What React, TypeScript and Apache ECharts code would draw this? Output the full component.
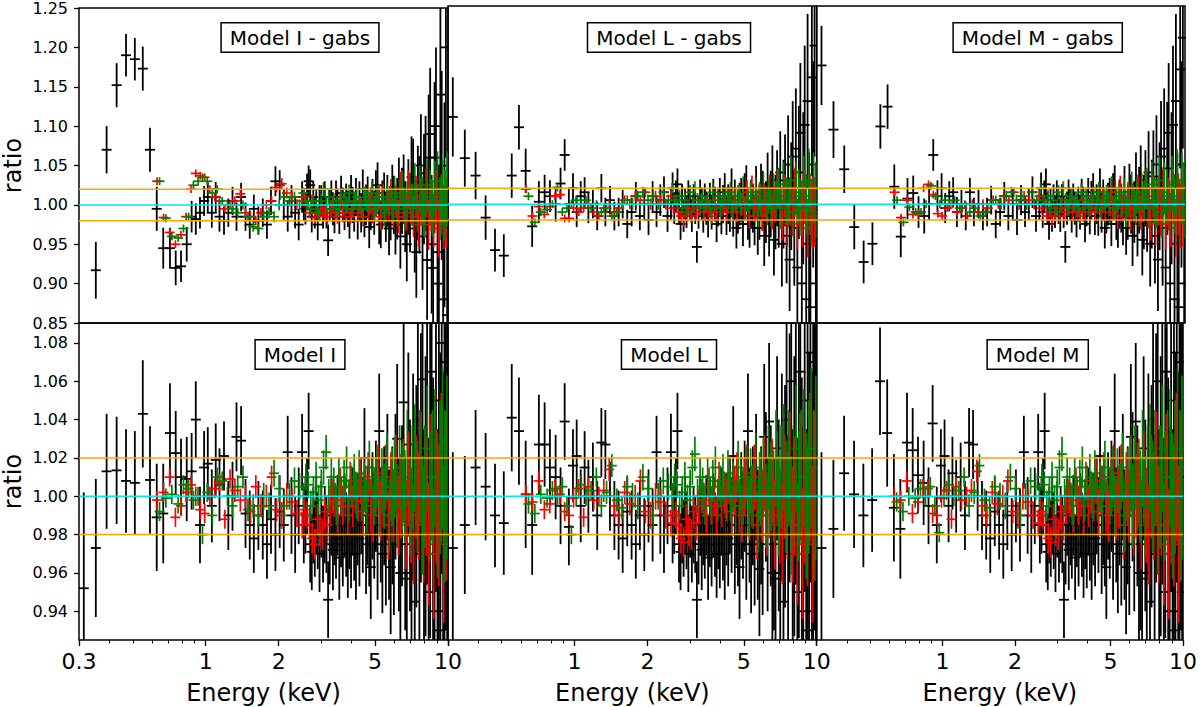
import React, { useEffect, useRef } from 'react';
import * as echarts from 'echarts';

// energies (keV) of the three spectra, shared by all six panels
const ENERGY_BLACK = [
  0.314, 0.352, 0.39, 0.429, 0.469, 0.51, 0.55, 0.589, 0.628, 0.668, 0.712, 0.752, 0.791, 0.835, 0.875, 0.91,
  0.947, 0.985, 1.02, 1.06, 1.1, 1.14, 1.19, 1.24, 1.29, 1.34,
  1.4, 1.46, 1.52, 1.58, 1.65, 1.72, 1.79, 1.86, 1.94, 2.02,
  2.1, 2.18, 2.26, 2.34, 2.42, 2.5, 2.54, 2.58, 2.62, 2.66,
  2.7, 2.74, 2.78, 2.82, 2.86, 2.9, 2.95, 3.0, 3.05, 3.1,
  3.15, 3.2, 3.25, 3.3, 3.35, 3.4, 3.45, 3.5, 3.56, 3.62,
  3.68, 3.74, 3.8, 3.86, 3.92, 3.98, 4.04, 4.1, 4.17, 4.24,
  4.31, 4.38, 4.45, 4.52, 4.59, 4.66, 4.73, 4.8, 4.88, 4.96,
  5.04, 5.12, 5.2, 5.28, 5.36, 5.45, 5.54, 5.62, 5.71, 5.8,
  5.89, 5.98, 6.07, 6.17, 6.27, 6.36, 6.46, 6.56, 6.66, 6.76,
  6.86, 6.97, 7.07, 7.18, 7.29, 7.4, 7.51, 7.62, 7.73, 7.85,
  7.96, 8.08, 8.2, 8.32, 8.44, 8.56, 8.68, 8.8, 8.92, 9.05,
  9.17, 9.3, 9.42, 9.55, 9.67, 9.8, 9.92,
];
const ERR_BLACK = [
  0.05, 0.036, 0.03, 0.028, 0.027, 0.027, 0.028, 0.028, 0.028, 0.026, 0.026, 0.022, 0.02, 0.022, 0.02, 0.02,
  0.02, 0.019, 0.019, 0.019, 0.019, 0.019, 0.018, 0.018, 0.018, 0.018,
  0.018, 0.018, 0.018, 0.018, 0.018, 0.018, 0.018, 0.018, 0.019, 0.019,
  0.019, 0.019, 0.02, 0.02, 0.02, 0.02, 0.02, 0.02, 0.02, 0.02,
  0.02, 0.02, 0.02, 0.02, 0.02, 0.02, 0.02, 0.02, 0.02, 0.02,
  0.02, 0.02, 0.021, 0.021, 0.021, 0.021, 0.021, 0.021, 0.022, 0.022,
  0.022, 0.022, 0.022, 0.023, 0.023, 0.023, 0.023, 0.024, 0.024, 0.024,
  0.025, 0.025, 0.025, 0.026, 0.026, 0.026, 0.027, 0.027, 0.028, 0.028,
  0.029, 0.029, 0.03, 0.03, 0.031, 0.031, 0.032, 0.033, 0.034, 0.035,
  0.036, 0.037, 0.038, 0.039, 0.04, 0.041, 0.042, 0.044, 0.045, 0.047,
  0.048, 0.05, 0.052, 0.054, 0.056, 0.058, 0.06, 0.062, 0.065, 0.068,
  0.07, 0.073, 0.076, 0.08, 0.084, 0.088, 0.092, 0.096, 0.1, 0.105,
  0.11, 0.115, 0.12, 0.125, 0.13, 0.14, 0.15,
];

const ENERGY_RED = [
  0.63, 0.67, 0.71, 0.75, 0.79, 0.83, 0.87, 0.91, 0.95, 0.99,
  1.04, 1.09, 1.14, 1.2, 1.26, 1.32, 1.39, 1.46, 1.53, 1.61,
  1.69, 1.78, 1.87, 1.96, 2.06, 2.16, 2.27, 2.38, 2.5, 2.56,
  2.62, 2.68, 2.75, 2.82, 2.89, 2.96, 3.03, 3.1, 3.18, 3.26,
  3.34, 3.42, 3.5, 3.59, 3.68, 3.77, 3.86, 3.95, 4.05, 4.15,
  4.25, 4.35, 4.46, 4.57, 4.68, 4.79, 4.91, 5.03, 5.15, 5.27,
  5.4, 5.53, 5.67, 5.81, 5.95, 6.09, 6.24, 6.39, 6.55, 6.71,
  6.87, 7.04, 7.21, 7.38, 7.56, 7.74, 7.93, 8.12, 8.32, 8.52,
  8.73, 8.94, 9.16, 9.38, 9.6, 9.82,
];
const ERR_RED = [
  0.005, 0.005, 0.005, 0.005, 0.005, 0.005, 0.005, 0.005, 0.005, 0.005,
  0.005, 0.005, 0.005, 0.005, 0.005, 0.006, 0.006, 0.006, 0.006, 0.006,
  0.006, 0.006, 0.006, 0.006, 0.007, 0.007, 0.007, 0.007, 0.007, 0.007,
  0.007, 0.007, 0.008, 0.008, 0.008, 0.008, 0.008, 0.009, 0.009, 0.009,
  0.009, 0.009, 0.009, 0.01, 0.01, 0.01, 0.01, 0.01, 0.011, 0.011,
  0.011, 0.012, 0.012, 0.013, 0.013, 0.014, 0.014, 0.015, 0.015, 0.016,
  0.016, 0.017, 0.018, 0.018, 0.019, 0.02, 0.021, 0.022, 0.022, 0.023,
  0.024, 0.025, 0.026, 0.027, 0.028, 0.029, 0.03, 0.031, 0.032, 0.033,
  0.034, 0.035, 0.037, 0.039, 0.041, 0.044,
];

const ENERGY_GREEN = [
  0.645, 0.685, 0.725, 0.77, 0.81, 0.85, 0.89, 0.93, 0.97, 1.015,
  1.065, 1.115, 1.17, 1.23, 1.29, 1.355, 1.425, 1.495, 1.57, 1.65,
  1.735, 1.825, 1.915, 2.01, 2.11, 2.215, 2.325, 2.44, 2.53, 2.59,
  2.65, 2.715, 2.785, 2.855, 2.925, 3.0, 3.065, 3.14, 3.22, 3.3,
  3.38, 3.46, 3.545, 3.635, 3.725, 3.815, 3.905, 4.0, 4.1, 4.2,
  4.3, 4.405, 4.515, 4.625, 4.735, 4.85, 4.97, 5.09, 5.21, 5.335,
  5.465, 5.6, 5.74, 5.88, 6.02, 6.165, 6.315, 6.47, 6.63, 6.79,
  6.955, 7.125, 7.295, 7.47, 7.65, 7.835, 8.025, 8.22, 8.42, 8.625,
  8.835, 9.05, 9.27, 9.49, 9.71, 9.9,
];
const ERR_GREEN = [
  0.005, 0.005, 0.005, 0.005, 0.005, 0.005, 0.005, 0.005, 0.005, 0.005,
  0.005, 0.005, 0.005, 0.005, 0.006, 0.006, 0.006, 0.006, 0.006, 0.006,
  0.007, 0.007, 0.007, 0.007, 0.007, 0.007, 0.007, 0.007, 0.007, 0.007,
  0.007, 0.008, 0.008, 0.008, 0.008, 0.009, 0.009, 0.009, 0.009, 0.01,
  0.01, 0.01, 0.01, 0.01, 0.011, 0.011, 0.011, 0.011, 0.012, 0.012,
  0.012, 0.013, 0.013, 0.014, 0.014, 0.015, 0.015, 0.016, 0.016, 0.017,
  0.017, 0.018, 0.019, 0.02, 0.021, 0.022, 0.022, 0.023, 0.024, 0.025,
  0.026, 0.027, 0.028, 0.029, 0.03, 0.031, 0.032, 0.033, 0.034, 0.035,
  0.036, 0.038, 0.04, 0.042, 0.045, 0.048,
];

// data / model ratios, top row (with gabs)
const I_GABS_BLACK = [
  0.78, 0.917, 1.07, 1.152, 1.19, 1.185, 1.173, 1.07, 0.995, 0.945, 0.945, 0.92, 0.922, 0.95, 0.985, 0.982,
  0.99, 1.005, 1.01, 0.99, 1.01, 0.985, 0.98, 0.99, 1.005, 0.985,
  1.01, 0.985, 0.975, 0.995, 0.98, 0.99, 0.975, 1.005, 1.03, 1.025,
  1.0, 0.985, 1.005, 0.99, 0.975, 1.01, 1.0, 0.995, 1.02, 1.03,
  1.025, 0.985, 1.01, 0.99, 1.0, 0.975, 1.005, 1.005, 0.99, 1.01,
  0.99, 0.955, 1.0, 1.01, 0.995, 0.985, 1.01, 1.0, 0.985, 1.015,
  1.0, 0.99, 1.005, 0.995, 0.98, 1.015, 1.0, 0.99, 1.01, 0.98,
  1.005, 0.99, 1.02, 0.985, 1.0, 1.01, 0.972, 0.995, 1.005, 0.99,
  1.015, 1.025, 0.98, 0.975, 1.0, 1.01, 0.985, 1.005, 0.97, 0.99,
  1.015, 1.0, 0.975, 0.995, 1.02, 0.96, 1.005, 1.02, 0.985, 0.95,
  1.01, 0.99, 1.035, 1.03, 0.97, 0.94, 1.015, 1.0, 1.05, 0.96,
  1.02, 1.04, 0.93, 1.06, 1.09, 0.95, 0.92, 1.06, 1.1, 0.9,
  0.94, 1.14, 1.05, 0.88, 1.0, 1.2, 0.86,
];
const I_GABS_RED = [
  1.03, 0.984, 0.965, 0.95, 0.962, 0.985, 1.02, 1.04, 1.037, 1.035,
  1.02, 1.01, 1.005, 0.995, 1.0, 1.005, 1.014, 0.99, 0.985, 0.98,
  0.99, 1.0, 1.005, 1.022, 1.027, 1.015, 1.01, 1.0, 1.005, 1.01,
  1.0, 0.99, 1.005, 0.984, 0.99, 0.988, 0.995, 0.99, 0.985, 0.995,
  1.0, 0.99, 0.985, 1.005, 0.995, 0.99, 1.0, 0.985, 0.995, 1.005,
  0.99, 1.0, 0.985, 1.01, 0.995, 1.005, 0.99, 1.0, 1.01, 0.985,
  1.01, 0.995, 1.0, 1.015, 0.99, 1.005, 0.985, 1.02, 1.0, 0.99,
  1.02, 1.0, 0.985, 1.01, 0.975, 1.005, 0.99, 1.015, 0.975, 1.0,
  0.98, 1.01, 0.97, 1.0, 0.985, 0.99,
];
const I_GABS_GREEN = [
  1.03, 0.983, 0.96, 0.958, 0.97, 0.985, 1.025, 1.03, 1.035, 1.03,
  1.015, 1.02, 1.005, 1.0, 0.995, 0.99, 1.0, 0.985, 0.972, 0.97,
  0.985, 0.99, 0.985, 1.0, 1.01, 1.005, 1.01, 1.0, 1.015, 1.005,
  1.0, 0.995, 1.005, 1.0, 0.99, 1.005, 1.02, 1.0, 1.01, 0.995,
  1.005, 1.0, 0.995, 1.01, 1.005, 1.0, 1.015, 0.995, 1.005, 1.01,
  1.0, 0.995, 1.01, 1.005, 1.0, 1.015, 0.995, 1.005, 1.01, 1.0,
  0.99, 1.01, 1.005, 1.0, 1.015, 0.995, 1.01, 1.02, 0.995, 1.005,
  1.015, 1.0, 1.025, 0.995, 1.02, 1.005, 0.99, 1.025, 1.01, 0.995,
  1.02, 1.03, 0.995, 1.015, 1.0, 1.02,
];

const L_GABS_BLACK = [
  1.11, 1.058, 1.036, 0.983, 0.942, 0.935, 1.036, 1.097, 1.042, 0.972, 1.003, 1.015, 1.01, 1.0, 1.026, 1.062,
  1.0, 1.02, 0.99, 1.01, 1.015, 0.995, 1.0, 0.985, 1.02, 0.99,
  1.005, 0.985, 0.99, 1.0, 0.975, 0.99, 1.01, 0.985, 1.0, 0.98,
  1.01, 0.99, 1.005, 1.015, 0.985, 1.0, 1.02, 0.995, 1.01, 1.025,
  0.995, 0.975, 1.005, 0.985, 1.0, 0.99, 1.01, 1.0, 0.985, 1.005,
  0.995, 0.946, 0.99, 1.01, 1.0, 0.985, 1.005, 0.995, 0.98, 1.005,
  0.99, 1.01, 1.0, 0.975, 0.995, 1.01, 0.985, 1.0, 1.015, 0.985,
  1.0, 0.99, 1.02, 0.985, 1.005, 0.97, 0.99, 1.0, 1.005, 0.975,
  1.01, 1.02, 0.985, 0.975, 1.0, 0.995, 0.98, 1.015, 0.97, 0.99,
  1.015, 1.005, 0.96, 0.99, 1.025, 0.975, 1.0, 1.03, 0.955, 0.99,
  1.02, 0.995, 1.04, 0.95, 1.0, 1.03, 0.96, 1.05, 0.93, 1.01,
  1.06, 0.97, 1.07, 0.92, 1.04, 1.09, 0.9, 1.02, 1.1, 0.88,
  1.13, 0.95, 0.87, 1.16, 1.05, 1.2, 0.9,
];
const L_GABS_RED = [
  1.019, 0.985, 0.997, 0.987, 0.997, 1.01, 1.012, 0.982, 0.982, 0.995,
  0.99, 0.995, 1.0, 0.99, 0.985, 0.995, 1.0, 0.99, 0.995, 1.005,
  1.0, 1.01, 1.005, 1.015, 1.0, 1.01, 1.005, 1.0, 1.01, 0.995,
  1.005, 0.99, 0.985, 0.98, 0.99, 0.995, 0.985, 1.0, 0.99, 0.995,
  1.005, 0.99, 1.0, 0.995, 0.985, 1.0, 0.99, 1.005, 0.995, 1.0,
  0.99, 1.01, 0.995, 1.005, 0.99, 1.01, 1.0, 0.995, 1.015, 0.985,
  1.02, 0.995, 1.0, 1.01, 0.985, 1.005, 0.995, 1.015, 0.99, 1.0,
  1.02, 0.995, 0.98, 1.01, 0.975, 1.005, 0.99, 1.015, 0.975, 1.0,
  0.98, 1.01, 0.97, 1.0, 0.985, 0.99,
];
const L_GABS_GREEN = [
  1.01, 0.977, 0.99, 0.993, 1.0, 1.021, 0.99, 0.995, 1.0, 1.005,
  1.0, 1.005, 0.995, 1.0, 0.99, 0.995, 0.985, 0.99, 1.0, 1.005,
  1.0, 1.01, 1.015, 1.005, 1.01, 1.0, 1.015, 1.005, 1.02, 1.005,
  1.0, 1.01, 0.995, 1.005, 0.99, 1.015, 1.0, 1.02, 1.005, 0.995,
  1.01, 1.0, 1.005, 0.995, 1.015, 1.0, 1.01, 0.995, 1.005, 1.01,
  1.0, 1.015, 0.995, 1.005, 1.01, 1.0, 1.02, 0.995, 1.005, 1.01,
  1.0, 1.015, 0.99, 1.005, 1.02, 1.0, 1.01, 0.995, 1.015, 1.005,
  1.02, 0.995, 1.025, 1.005, 1.0, 1.03, 0.99, 1.02, 1.01, 0.995,
  1.025, 1.0, 1.03, 0.99, 1.02, 1.005,
];

const M_GABS_BLACK = [
  1.175, 1.094, 1.044, 0.971, 0.927, 0.95, 1.098, 1.123, 1.022, 0.959, 1.007, 1.014, 0.99, 0.985, 1.0, 1.062,
  1.01, 1.02, 0.995, 1.01, 1.015, 0.99, 1.0, 0.985, 1.015, 0.99,
  1.0, 0.985, 0.99, 1.005, 0.975, 0.99, 1.01, 0.985, 1.0, 0.98,
  1.005, 0.99, 1.0, 1.015, 0.985, 1.0, 1.02, 0.99, 1.01, 1.025,
  0.995, 0.975, 1.0, 0.985, 1.005, 0.99, 1.01, 0.995, 0.985, 1.005,
  0.99, 0.946, 0.995, 1.01, 1.0, 0.985, 1.005, 0.995, 0.98, 1.0,
  0.99, 1.01, 1.0, 0.975, 0.995, 1.01, 0.985, 1.005, 1.015, 0.985,
  1.0, 0.985, 1.02, 0.99, 1.005, 0.97, 0.99, 1.0, 1.005, 0.975,
  1.01, 1.02, 0.985, 0.975, 1.0, 0.995, 0.98, 1.015, 0.97, 0.99,
  1.015, 1.0, 0.96, 0.99, 1.025, 0.975, 1.005, 1.03, 0.955, 0.99,
  1.02, 0.99, 1.04, 0.95, 1.0, 1.035, 0.96, 1.05, 0.93, 1.01,
  1.06, 0.97, 1.07, 0.92, 1.045, 1.09, 0.9, 1.02, 1.1, 0.88,
  1.13, 0.95, 0.87, 1.17, 1.05, 1.21, 0.9,
];
const M_GABS_RED = [
  1.015, 0.983, 1.005, 0.987, 0.988, 1.02, 1.025, 1.012, 0.988, 0.985,
  0.995, 1.0, 0.99, 0.995, 0.985, 1.0, 0.99, 1.0, 0.995, 1.005,
  1.0, 1.01, 1.005, 1.015, 1.0, 1.01, 1.005, 1.0, 1.01, 0.995,
  1.005, 0.985, 0.99, 0.98, 0.99, 0.995, 0.985, 1.0, 0.99, 0.995,
  1.005, 0.99, 1.0, 0.995, 0.985, 1.0, 0.99, 1.005, 0.995, 1.0,
  0.99, 1.01, 0.995, 1.005, 0.99, 1.01, 1.0, 0.995, 1.015, 0.985,
  1.02, 0.995, 1.0, 1.01, 0.985, 1.005, 0.995, 1.015, 0.99, 1.0,
  1.02, 0.995, 0.98, 1.01, 0.975, 1.005, 0.99, 1.015, 0.975, 1.0,
  0.98, 1.01, 0.97, 1.0, 0.985, 0.99,
];
const M_GABS_GREEN = [
  1.005, 0.977, 0.996, 0.99, 0.99, 1.0, 1.023, 1.01, 1.0, 1.005,
  1.0, 1.005, 0.995, 1.0, 0.99, 0.995, 0.985, 0.99, 1.0, 1.005,
  1.0, 1.01, 1.015, 1.005, 1.01, 1.0, 1.015, 1.005, 1.02, 1.005,
  1.0, 1.01, 0.995, 1.005, 0.99, 1.015, 1.0, 1.02, 1.005, 0.995,
  1.01, 1.0, 1.005, 0.995, 1.015, 1.0, 1.01, 0.995, 1.005, 1.01,
  1.0, 1.015, 0.995, 1.005, 1.01, 1.0, 1.02, 0.995, 1.005, 1.01,
  1.0, 1.015, 0.99, 1.005, 1.02, 1.0, 1.01, 0.995, 1.015, 1.005,
  1.02, 0.995, 1.025, 1.005, 1.0, 1.03, 0.99, 1.02, 1.01, 0.995,
  1.025, 1.0, 1.03, 0.99, 1.02, 1.005,
];

// bottom row (without gabs)
const I_BLACK = [
  0.952, 0.973, 1.013, 1.0135, 1.008, 1.007, 1.043, 1.0085, 0.989, 0.991, 1.033, 1.0225, 1.01, 1.009, 1.013, 1.04,
  0.985, 1.015, 1.017, 0.995, 1.019, 1.006, 1.021, 0.99, 1.0, 1.031,
  1.029, 0.991, 0.985, 0.978, 0.99, 0.985, 0.975, 0.988, 0.98, 0.992,
  0.985, 1.023, 0.99, 0.98, 0.995, 1.023, 0.985, 0.99, 1.0, 1.034,
  0.975, 0.971, 0.985, 0.978, 0.99, 0.982, 0.97, 0.988, 0.975, 0.985,
  0.98, 0.946, 0.975, 0.99, 0.972, 0.985, 0.978, 0.99, 0.968, 0.985,
  0.975, 0.99, 0.98, 0.97, 0.985, 0.975, 0.992, 0.98, 0.97, 0.988,
  0.978, 0.995, 0.985, 1.02, 0.975, 0.99, 0.98, 0.963, 0.995, 0.985,
  1.0, 0.975, 1.034, 0.985, 0.97, 0.995, 0.975, 1.01, 0.98, 0.963,
  0.99, 0.975, 1.005, 1.03, 0.98, 0.96, 0.995, 1.049, 0.975, 0.957,
  1.027, 0.99, 0.96, 1.01, 0.945, 1.0, 1.04, 0.97, 1.02, 1.061,
  0.965, 1.0, 1.03, 0.95, 1.01, 1.065, 0.97, 0.94, 1.05, 0.93,
  1.02, 0.96, 1.08, 0.94, 1.01, 1.07, 0.95,
];
const I_RED = [
  0.998, 1.002, 1.01, 0.989, 0.995, 1.002, 1.006, 1.0, 0.993, 0.991,
  1.0, 1.004, 1.007, 0.988, 1.009, 1.003, 0.998, 1.0, 0.992, 1.005,
  0.995, 1.0, 1.01, 0.993, 0.99, 1.0, 0.997, 0.991, 0.985, 0.993,
  0.99, 0.985, 0.978, 0.975, 0.988, 0.982, 0.98, 0.992, 0.985, 0.995,
  1.0, 0.998, 0.99, 1.005, 0.995, 1.0, 0.99, 1.008, 0.995, 1.002,
  0.998, 1.008, 0.992, 1.003, 1.01, 0.995, 0.99, 1.005, 1.012, 0.993,
  1.0, 1.01, 0.985, 1.005, 0.995, 1.012, 0.99, 1.0, 1.008, 0.985,
  1.01, 0.99, 0.98, 1.005, 0.995, 1.015, 0.985, 1.0, 0.975, 1.01,
  0.97, 1.0, 0.99, 1.015, 0.975, 1.0,
];
const I_GREEN = [
  0.992, 0.999, 1.001, 0.996, 1.006, 1.004, 0.998, 1.0, 0.98, 1.002,
  0.99, 1.01, 1.008, 1.0, 0.995, 1.005, 1.01, 0.993, 0.995, 0.99,
  1.0, 0.995, 1.012, 1.004, 0.995, 1.0, 1.008, 1.005, 1.0, 1.01,
  1.006, 0.995, 1.002, 1.01, 0.998, 1.005, 1.015, 1.023, 1.0, 1.01,
  1.005, 0.995, 1.01, 1.0, 1.008, 1.015, 0.998, 1.005, 1.01, 1.0,
  1.012, 1.0, 1.005, 0.995, 1.015, 1.005, 1.0, 1.01, 0.995, 1.008,
  1.0, 1.015, 0.99, 1.005, 1.01, 0.995, 1.015, 1.005, 1.0, 1.02,
  0.995, 1.01, 1.02, 1.0, 1.015, 0.99, 1.005, 1.025, 1.0, 1.01,
  1.02, 0.995, 1.01, 1.025, 1.0, 1.015,
];

const L_BLACK = [
  0.973, 0.985, 1.015, 1.005, 0.99, 0.986, 1.041, 1.034, 1.001, 0.985, 1.027, 1.027, 1.015, 1.01, 0.995, 1.039,
  0.984, 1.016, 1.021, 0.995, 1.015, 1.0, 1.01, 0.99, 1.028, 1.027,
  1.0, 0.99, 0.985, 0.978, 0.992, 0.985, 0.975, 0.99, 0.98, 0.995,
  0.985, 1.023, 0.99, 0.98, 0.995, 1.023, 0.985, 0.99, 1.0, 1.034,
  0.975, 0.971, 0.985, 0.978, 0.99, 0.982, 0.97, 0.988, 0.975, 0.985,
  0.98, 0.946, 0.975, 0.99, 0.972, 0.985, 0.978, 0.99, 0.968, 0.985,
  0.975, 0.99, 0.98, 0.97, 0.985, 0.975, 0.992, 0.98, 0.97, 0.988,
  0.978, 0.995, 0.985, 1.021, 0.975, 0.99, 0.98, 0.963, 0.995, 0.985,
  1.0, 0.975, 1.034, 0.985, 0.97, 0.995, 0.975, 1.01, 0.98, 0.962,
  0.99, 0.975, 1.031, 1.005, 0.98, 1.039, 0.995, 0.96, 0.975, 0.957,
  1.025, 0.99, 0.96, 1.01, 0.945, 1.0, 1.04, 0.97, 1.02, 1.06,
  0.965, 1.0, 1.03, 0.95, 1.01, 1.065, 0.97, 0.94, 1.05, 0.93,
  1.02, 0.96, 1.075, 0.94, 1.01, 1.07, 0.95,
];
const L_RED = [
  1.001, 0.997, 1.008, 0.993, 0.996, 1.004, 1.001, 0.992, 0.99, 0.999,
  1.004, 0.989, 1.005, 0.998, 1.0, 1.003, 1.014, 0.995, 0.99, 1.002,
  0.996, 1.0, 1.008, 0.992, 0.99, 1.0, 0.997, 0.99, 0.986, 0.992,
  0.99, 0.985, 0.978, 0.976, 0.988, 0.982, 0.98, 0.992, 0.986, 0.995,
  1.0, 0.998, 0.99, 1.005, 0.995, 1.0, 0.99, 1.008, 0.995, 1.002,
  0.998, 1.008, 0.992, 1.003, 1.01, 0.995, 0.99, 1.005, 1.012, 0.993,
  1.0, 1.01, 0.985, 1.005, 0.995, 1.012, 0.99, 1.0, 1.008, 0.985,
  1.01, 0.99, 0.98, 1.005, 0.995, 1.015, 0.985, 1.0, 0.975, 1.01,
  0.97, 1.0, 0.99, 1.015, 0.975, 1.0,
];
const L_GREEN = [
  0.996, 0.991, 1.001, 0.999, 1.003, 1.0, 1.005, 0.995, 0.98, 1.0,
  1.006, 1.0, 1.003, 1.01, 0.995, 1.002, 1.016, 0.998, 0.994, 1.005,
  1.0, 0.995, 1.01, 1.004, 0.99, 1.0, 1.008, 1.005, 1.0, 1.01,
  1.006, 0.995, 1.002, 1.01, 0.998, 1.005, 1.015, 1.022, 1.0, 1.01,
  1.005, 0.995, 1.01, 1.0, 1.008, 1.015, 0.998, 1.005, 1.01, 1.0,
  1.012, 1.0, 1.005, 0.995, 1.015, 1.005, 1.0, 1.01, 0.995, 1.008,
  1.0, 1.015, 0.99, 1.005, 1.01, 0.995, 1.015, 1.005, 1.0, 1.02,
  0.995, 1.01, 1.02, 1.0, 1.015, 0.99, 1.005, 1.025, 1.0, 1.01,
  1.02, 0.995, 1.01, 1.025, 1.0, 1.015,
];

const M_BLACK = [
  0.973, 0.983, 1.012, 1.001, 0.99, 0.998, 1.06, 1.033, 0.994, 0.983, 1.028, 1.024, 1.011, 1.007, 0.995, 1.038,
  0.985, 1.016, 1.021, 0.995, 1.012, 1.0, 1.01, 0.99, 1.028, 1.027,
  1.0, 0.99, 0.985, 0.978, 0.992, 0.985, 0.975, 0.99, 0.98, 0.995,
  0.985, 1.023, 0.99, 0.98, 0.995, 1.023, 0.985, 0.99, 1.0, 1.034,
  0.975, 0.971, 0.985, 0.978, 0.99, 0.982, 0.97, 0.988, 0.975, 0.985,
  0.98, 0.946, 0.975, 0.99, 0.972, 0.985, 0.978, 0.99, 0.968, 0.985,
  0.975, 0.99, 0.98, 0.97, 0.985, 0.975, 0.992, 0.98, 0.97, 0.988,
  0.978, 0.995, 0.985, 1.021, 0.975, 0.99, 0.98, 0.963, 0.995, 0.985,
  1.0, 0.975, 1.034, 0.985, 0.97, 0.995, 0.975, 1.01, 0.98, 0.963,
  0.99, 0.975, 1.031, 1.005, 0.98, 1.039, 0.995, 0.96, 0.975, 0.957,
  1.025, 0.99, 0.96, 1.01, 0.945, 1.0, 1.04, 0.97, 1.02, 1.06,
  0.965, 1.0, 1.03, 0.95, 1.01, 1.065, 0.97, 0.94, 1.05, 0.93,
  1.02, 0.96, 1.075, 0.94, 1.01, 1.07, 0.95,
];
const M_RED = [
  1.0, 0.998, 1.008, 0.991, 0.997, 1.004, 1.004, 0.991, 0.99, 0.999,
  1.003, 0.988, 1.005, 0.998, 1.0, 1.003, 1.013, 0.995, 0.99, 1.002,
  0.996, 1.0, 1.008, 0.992, 0.99, 1.0, 0.997, 0.99, 0.986, 0.992,
  0.99, 0.985, 0.978, 0.976, 0.988, 0.982, 0.98, 0.992, 0.986, 0.995,
  1.0, 0.998, 0.99, 1.005, 0.995, 1.0, 0.99, 1.008, 0.995, 1.002,
  0.998, 1.008, 0.992, 1.003, 1.01, 0.995, 0.99, 1.005, 1.012, 0.993,
  1.0, 1.01, 0.985, 1.005, 0.995, 1.012, 0.99, 1.0, 1.008, 0.985,
  1.01, 0.99, 0.98, 1.005, 0.995, 1.015, 0.985, 1.0, 0.975, 1.01,
  0.97, 1.0, 0.99, 1.015, 0.975, 1.0,
];
const M_GREEN = [
  0.997, 0.992, 1.0, 0.999, 1.004, 1.0, 1.005, 0.995, 0.981, 1.0,
  1.006, 1.0, 1.003, 1.01, 0.995, 1.002, 1.016, 0.998, 0.994, 1.005,
  1.0, 0.995, 1.01, 1.004, 0.99, 1.0, 1.008, 1.005, 1.0, 1.01,
  1.006, 0.995, 1.002, 1.01, 0.998, 1.005, 1.015, 1.022, 1.0, 1.01,
  1.005, 0.995, 1.01, 1.0, 1.008, 1.015, 0.998, 1.005, 1.01, 1.0,
  1.012, 1.0, 1.005, 0.995, 1.015, 1.005, 1.0, 1.01, 0.995, 1.008,
  1.0, 1.015, 0.99, 1.005, 1.01, 0.995, 1.015, 1.005, 1.0, 1.02,
  0.995, 1.01, 1.02, 1.0, 1.015, 0.99, 1.005, 1.025, 1.0, 1.01,
  1.02, 0.995, 1.01, 1.025, 1.0, 1.015,
];

const PANEL_TITLES = ['Model I - gabs', 'Model L - gabs', 'Model M - gabs', 'Model I', 'Model L', 'Model M'];
const PANELS = [
  [I_GABS_BLACK, I_GABS_RED, I_GABS_GREEN],
  [L_GABS_BLACK, L_GABS_RED, L_GABS_GREEN],
  [M_GABS_BLACK, M_GABS_RED, M_GABS_GREEN],
  [I_BLACK, I_RED, I_GREEN],
  [L_BLACK, L_RED, L_GREEN],
  [M_BLACK, M_RED, M_GREEN],
];

const TOP_TICKS = [0.85, 0.9, 0.95, 1.0, 1.05, 1.1, 1.15, 1.2, 1.25];
const BOTTOM_TICKS = [0.94, 0.96, 0.98, 1.0, 1.02, 1.04, 1.06, 1.08];
const X_MAJOR = [0.3, 1, 2, 5, 10];
const X_MINOR = [0.4, 0.5, 0.6, 0.7, 0.8, 0.9, 3, 4, 6, 7, 8, 9];
const REF_LINES = [
  { value: 1.02, color: '#ffa500' },
  { value: 0.98, color: '#ffa500' },
  { value: 1.0, color: '#00e8f0' },
];

const FONT = 'DejaVu Sans';
const LEFTS = [79, 448, 816.7];
const WIDTHS = [369, 368.7, 368.3];
const TOPS = [6, 323];
const PANEL_H = 317;
const Y_RANGE = [[0.85, 1.25], [0.925, 1.0904]];

// error-bar cross drawn through the axes' scales
const crossRenderer = (color: string, halfWidth: number, lineWidth: number) => (_params: any, api: any) => {
  const x = api.value(0);
  const y = api.value(1);
  const e = api.value(2);
  const c = api.coord([x, y]);
  const hi = api.coord([x, y + e]);
  const lo = api.coord([x, y - e]);
  const style = { stroke: color, lineWidth };
  return {
    type: 'group',
    children: [
      { type: 'line', shape: { x1: c[0] - halfWidth, y1: c[1], x2: c[0] + halfWidth, y2: c[1] }, style },
      { type: 'line', shape: { x1: c[0], y1: hi[1], x2: c[0], y2: lo[1] }, style },
    ],
  };
};

const fmtEnergy = (v: number) => (v < 1 ? v.toFixed(1) : String(Math.round(v)));

const App: React.FC = () => {
  const chartRef = useRef<HTMLDivElement>(null);

  useEffect(() => {
    if (!chartRef.current) return;
    const chart = echarts.init(chartRef.current, undefined, { renderer: 'svg' });

    const grid: any[] = [];
    const xAxis: any[] = [];
    const yAxis: any[] = [];
    const series: any[] = [];
    const graphic: any[] = [];

    PANELS.forEach((panel, k) => {
      const col = k % 3;
      const row = Math.floor(k / 3);
      const bottom = row === 1;
      const ticks = bottom ? BOTTOM_TICKS : TOP_TICKS;

      grid.push({
        left: LEFTS[col], top: TOPS[row], width: WIDTHS[col], height: PANEL_H,
        show: true, borderColor: '#000', borderWidth: 1.5, backgroundColor: 'transparent',
      });

      xAxis.push({
        type: 'log', logBase: 10, gridIndex: k, min: 0.3, max: 10, position: 'bottom',
        axisLine: { show: false }, splitLine: { show: false },
        axisTick: { show: bottom, customValues: X_MAJOR, length: 6, lineStyle: { color: '#000', width: 1.3 } },
        axisLabel: {
          show: bottom, customValues: col === 0 ? X_MAJOR : X_MAJOR.slice(1),
          formatter: fmtEnergy, fontSize: 22, color: '#000', fontFamily: FONT, margin: 10,
        },
        name: bottom ? 'Energy (keV)' : '', nameLocation: 'middle', nameGap: 41,
        nameTextStyle: { fontSize: 24, color: '#000', fontFamily: FONT },
      });
      xAxis.push({
        type: 'log', logBase: 10, gridIndex: k, min: 0.3, max: 10, position: 'bottom',
        axisLine: { show: false }, splitLine: { show: false }, axisLabel: { show: false },
        axisTick: { show: bottom, customValues: X_MINOR, length: 3.5, lineStyle: { color: '#000', width: 1 } },
      });

      yAxis.push({
        type: 'value', gridIndex: k, min: Y_RANGE[row][0], max: Y_RANGE[row][1], show: col === 0,
        axisLine: { show: false }, splitLine: { show: false },
        axisTick: { show: true, customValues: ticks, length: 5, lineStyle: { color: '#000', width: 1.3 } },
        axisLabel: {
          customValues: ticks, formatter: (v: number) => v.toFixed(2),
          fontSize: 16, color: '#000', fontFamily: FONT, margin: 11,
        },
        name: 'ratio', nameLocation: 'middle', nameGap: 54,
        nameTextStyle: { fontSize: 24, color: '#000', fontFamily: FONT },
      });

      const [black, red, green] = panel;
      const sets = [
        { energy: ENERGY_BLACK, ratio: black, err: ERR_BLACK, color: '#000000', hw: 5, lw: 1.8 },
        { energy: ENERGY_RED, ratio: red, err: ERR_RED, color: '#ff0000', hw: 5, lw: 1.7 },
        { energy: ENERGY_GREEN, ratio: green, err: ERR_GREEN, color: '#008000', hw: 5, lw: 1.7 },
      ];
      sets.forEach((s) => {
        series.push({
          type: 'custom', xAxisIndex: 2 * k, yAxisIndex: k, clip: true, silent: true,
          encode: { x: 0, y: 1 },
          data: s.energy.map((e, i) => [e, s.ratio[i], s.err[i]]),
          renderItem: crossRenderer(s.color, s.hw, s.lw),
        });
      });

      REF_LINES.forEach((r) => {
        series.push({
          type: 'line', xAxisIndex: 2 * k, yAxisIndex: k, z: 5, silent: true,
          showSymbol: false, symbol: 'none',
          data: [[0.3, r.value], [10, r.value]],
          lineStyle: { color: r.color, width: 1.5 },
        });
      });

      graphic.push({
        type: 'text',
        x: LEFTS[col] + 221,
        y: bottom ? 354.5 : 37.5,
        z: 100,
        style: {
          text: PANEL_TITLES[k],
          font: `20px "${FONT}"`,
          fill: '#000',
          align: 'center',
          verticalAlign: 'middle',
          backgroundColor: '#fff',
          borderColor: '#000',
          borderWidth: 1.5,
          padding: [4, 8, 4, 8],
        },
      });
    });

    const option: echarts.EChartsOption = {
      animation: false,
      backgroundColor: '#fff',
      textStyle: { fontFamily: FONT },
      grid,
      xAxis,
      yAxis,
      series,
      graphic,
    };

    chart.setOption(option);

    return () => {
      chart.dispose();
    };
  }, []);

  return <div ref={chartRef} style={{ position: 'absolute', left: 0, top: 0, width: '1200px', height: '707px' }} />;
};

export default App;
